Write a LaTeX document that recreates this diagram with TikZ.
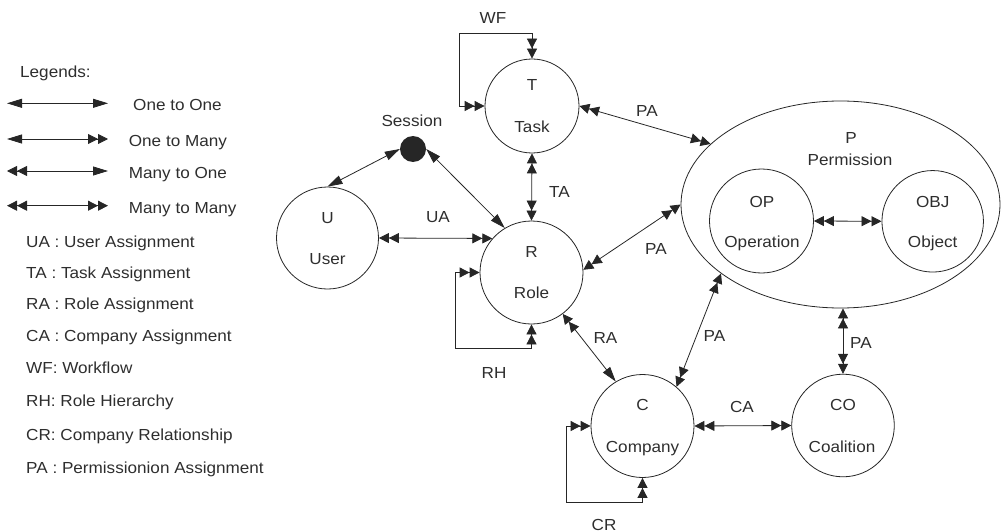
\documentclass[tikz,border=0pt]{standalone}
\usepackage{fontspec}
\setmainfont[FakeStretch=1.07]{Liberation Sans}
\usetikzlibrary{arrows.meta,shapes.geometric}
\definecolor{ink}{HTML}{262626}
\definecolor{txt}{HTML}{2E2E2E}
\tikzset{
  sgl/.tip={Triangle[length=15pt,width=9pt]},
  dbl/.tip={Triangle[length=10pt,width=10pt]Triangle[length=10pt,width=10pt]},
}
\begin{document}
\begin{tikzpicture}[x=1pt,y=-1pt,
  ent/.style={circle,draw=ink,line width=0.8pt,inner sep=0pt},
  link/.style={draw=ink,line width=0.8pt},
  lbl/.style={text=txt,font=\fontsize{16}{19}\selectfont,inner sep=0pt,anchor=base},
  leg/.style={lbl,anchor=base west}]
\useasboundingbox (0,0) rectangle (1001,532);

% ---- entities ----
\node[ent,minimum size=94pt]    (T)   at (532,106)     {};
\node[ent,minimum size=102pt]   (U)   at (327.5,238)   {};
\node[ent,minimum size=103pt]   (R)   at (531.5,272.5) {};
\node[ent,minimum size=103pt]   (C)   at (642.5,426)   {};
\node[ent,minimum size=102.6pt] (CO)  at (843,425.5)   {};
\node[ellipse,draw=ink,line width=0.8pt,inner sep=0pt,
      minimum width=319pt,minimum height=207pt] (P) at (840.5,204.5) {};
\node[ent,minimum size=104pt]   (OP)  at (761.5,221)   {};
\node[ent,minimum size=101.5pt] (OBJ) at (932.7,221.3) {};
\node[circle,fill=ink,inner sep=0pt,minimum size=26pt] (S) at (413,149) {};

% ---- entity captions ----
\node[lbl] (tT)   at (532,91)    {T};
\node[lbl] (tTk)  at (532,132)   {Task};
\node[lbl] (tU)   at (327.5,223) {U};
\node[lbl] (tUs)  at (327.5,264) {User};
\node[lbl] (tR)   at (531.5,257) {R};
\node[lbl] (tRo)  at (531.5,298) {Role};
\node[lbl] (tC)   at (642.5,410) {C};
\node[lbl] (tCo)  at (642.5,452) {Company};
\node[lbl] (tCO)  at (843,410)   {CO};
\node[lbl] (tCl)  at (842,452)   {Coalition};
\node[lbl] (tOP)  at (762,207)   {OP};
\node[lbl] (tOpn) at (762,247)   {Operation};
\node[lbl] (tOB)  at (932.7,207) {OBJ};
\node[lbl] (tObj) at (932.7,247) {Object};
\node[lbl] (tP)   at (851,143)   {P};
\node[lbl] (tPm)  at (850,165)   {Permission};
\node[lbl] (tS)   at (412,127)   {Session};

% ---- relations ----
\coordinate (wf) at (459,33);
\coordinate (rh) at (455,348);
\coordinate (cr) at (566,502);
\draw[link,dbl-dbl] (T.west) -| (wf) -| (T.north);
\draw[link,dbl-dbl] (R.west) -| (rh) -| (R.south);
\draw[link,dbl-dbl] (C.west) -| (cr) -| (C.south);
\draw[link,sgl-sgl] (S.west) -- (U.north);
\draw[link,sgl-sgl] (S.east) -- (R.121);
\draw[link,dbl-dbl] (U.east) -- (R.139);
\draw[link,dbl-dbl] (T.south) -- (R.north);
\draw[link,dbl-dbl] (T.east) -- (P.155);
\draw[link,dbl-dbl] (R.3) -- (P.west);
\draw[link,dbl-sgl] (R.-53) -- (C.121);
\draw[link,dbl-dbl] (C.49) -- (P.210);
\draw[link,dbl-dbl] (C.east) -- (CO.west);
\draw[link,dbl-dbl] (CO.north |- P.south) -- (CO.north);
\draw[link,dbl-dbl] (OP.east) -- (OBJ.west);

% ---- relation labels ----
\node[lbl] (lWF)  at (493,24)    {WF};
\node[lbl] (lPA1) at (647,117)   {PA};
\node[lbl] (lTA)  at (559.5,197) {TA};
\node[lbl] (lUA)  at (438,222)   {UA};
\node[lbl] (lRH)  at (494,378)   {RH};
\node[lbl] (lPA2) at (656,254)   {PA};
\node[lbl] (lRA)  at (605.5,343) {RA};
\node[lbl] (lPA3) at (714.5,341) {PA};
\node[lbl] (lCA)  at (742,412)   {CA};
\node[lbl] (lCR)  at (604,530)   {CR};
\node[lbl] (lPA4) at (861,348)   {PA};

% ---- legend ----
\node[leg] (lg) at (20,78) {Legends:};
\foreach \i/\y/\tip/\txt/\tx in {1/103.3/sgl-sgl/One to One/133,
                                 2/139/sgl-dbl/One to Many/128.7,
                                 3/171/dbl-sgl/Many to One/128.7,
                                 4/205.7/dbl-dbl/Many to Many/128.7}{
  \coordinate (la\i) at (7,\y);
  \coordinate (lb\i) at (108,\y);
  \draw[link,\tip] (la\i) -- (lb\i);
  \node[leg] (lt\i) at (\tx,\y+7.5) {\txt};
}
\node[leg] (k1) at (26,247) {UA : User Assignment};
\node[leg] (k2) at (26,278) {TA : Task Assignment};
\node[leg] (k3) at (26,309) {RA : Role Assignment};
\node[leg] (k4) at (26,341) {CA : Company Assignment};
\node[leg] (k5) at (26,373) {WF: Workflow};
\node[leg] (k6) at (26,406) {RH: Role Hierarchy};
\node[leg] (k7) at (26,440) {CR: Company Relationship};
\node[leg] (k8) at (26,473) {PA : Permissionion Assignment};
\end{tikzpicture}
\end{document}
